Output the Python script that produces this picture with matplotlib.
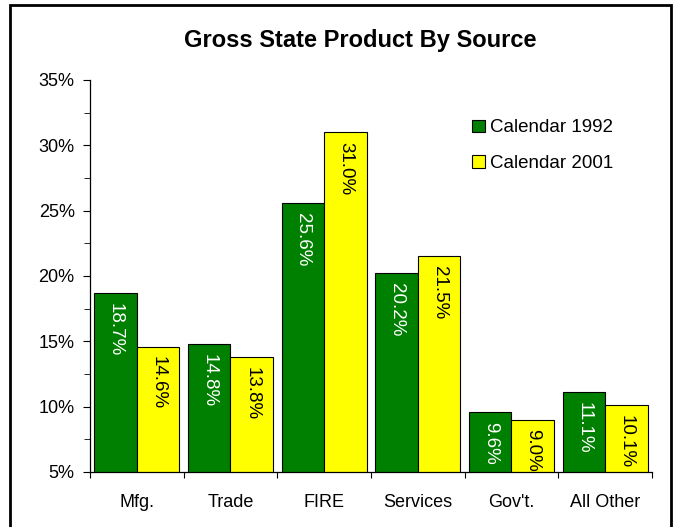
"""
Gross State Product by source, grouped bars
"""

import matplotlib
matplotlib.use("Agg")
import matplotlib.pyplot as plt
from matplotlib.patches import Rectangle
from matplotlib.ticker import FuncFormatter, MultipleLocator

# data
categories = ["Mfg.", "Trade", "FIRE", "Services", "Gov't.", "All Other"]
cal_1992 = [18.7, 14.8, 25.6, 20.2, 9.6, 11.1]
cal_2001 = [14.6, 13.8, 31.0, 21.5, 9.0, 10.1]
series_names = ["Calendar 1992", "Calendar 2001"]


def main():
    plt.rcParams["font.family"] = ["Liberation Sans", "DejaVu Sans"]

    fig = plt.figure(figsize=(6.85, 5.27), dpi=100)
    ax = fig.add_axes([90 / 685, 1 - 472 / 527, 562 / 685, 392 / 527])

    x = list(range(len(categories)))
    w = 0.455
    b1 = ax.bar([i - w / 2 for i in x], cal_1992, w, color="#008000",
                edgecolor="black", linewidth=0.8, label=series_names[0])
    b2 = ax.bar([i + w / 2 for i in x], cal_2001, w, color="#ffff00",
                edgecolor="black", linewidth=0.8, label=series_names[1])

    # value labels, rotated, inside the top of each bar
    for bars, vals, col in [(b1, cal_1992, "white"), (b2, cal_2001, "black")]:
        for rect, v in zip(bars, vals):
            ax.annotate("%.1f%%" % v,
                        (rect.get_x() + rect.get_width() / 2, v),
                        xytext=(0, -7), textcoords="offset points",
                        rotation=-90, ha="center", va="top",
                        color=col, fontsize=13.5)

    ax.set_xlim(-0.5, len(categories) - 0.5)
    ax.set_ylim(5, 35)

    # axes style
    for s in ["top", "right"]:
        ax.spines[s].set_visible(False)
    ax.spines["left"].set_linewidth(0.9)
    ax.spines["bottom"].set_linewidth(0.9)

    ax.yaxis.set_major_locator(MultipleLocator(5))
    ax.yaxis.set_minor_locator(MultipleLocator(2.5))
    ax.yaxis.set_major_formatter(FuncFormatter(lambda v, p: "%d%%" % v))
    ax.tick_params(axis="y", which="major", length=5, pad=6, labelsize=13)
    ax.tick_params(axis="y", which="minor", length=4)

    # ticks at category boundaries, labels at centers
    ax.set_xticks([i - 0.5 for i in range(len(categories) + 1)])
    ax.set_xticklabels([])
    ax.set_xticks(x, minor=True)
    ax.set_xticklabels(categories, minor=True)
    ax.tick_params(axis="x", which="major", length=4)
    ax.tick_params(axis="x", which="minor", length=0, pad=16, labelsize=13)

    fig.text(360 / 685, 1 - 40 / 527, "Gross State Product By Source",
             ha="center", va="center", fontsize=17, fontweight="bold")

    ax.legend(loc="upper left", bbox_to_anchor=(465 / 685, 1 - 112 / 527),
              bbox_transform=fig.transFigure, frameon=False, fontsize=13.5,
              handlelength=0.65, handleheight=0.65, handletextpad=0.3,
              labelspacing=1.0, borderaxespad=0)

    # outer frame
    fig.patches.append(Rectangle((10 / 685, -0.05), 661 / 685, 1.05 - 5 / 527,
                                 transform=fig.transFigure, fill=False,
                                 edgecolor="black", linewidth=2))

    fig.savefig("out.png", dpi=100)
    return 0


if __name__ == '__main__':
    main()
